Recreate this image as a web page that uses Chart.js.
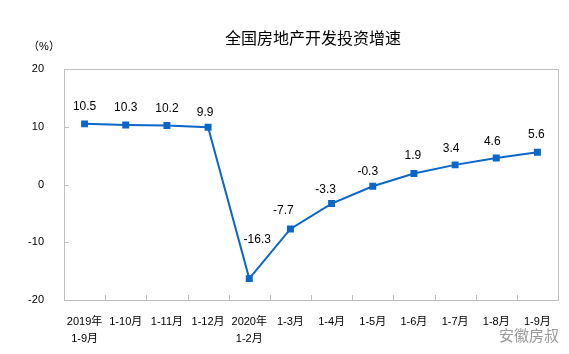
<!DOCTYPE html>
<html>
<head>
<meta charset="utf-8">
<script src="https://cdn.jsdelivr.net/npm/chart.js@4.4.0/dist/chart.umd.min.js"></script>
<style>
  html, body { margin: 0; padding: 0; background: #fff; }
  #wrap { width: 569px; height: 354px; }
</style>
</head>
<body>
<div id="wrap"><canvas id="chart" width="569" height="354"></canvas></div>
<script>
// categorias do eixo x (duas linhas quando muda o ano)
const categories = [['2019年', '1-9月'], '1-10月', '1-11月', '1-12月', ['2020年', '1-2月'],
    '1-3月', '1-4月', '1-5月', '1-6月', '1-7月', '1-8月', '1-9月'];
const growth = [10.5, 10.3, 10.2, 9.9, -16.3, -7.7, -3.3, -0.3, 1.9, 3.4, 4.6, 5.6];
const yTicks = [-20, -10, 0, 10, 20];
const chartTitle = '全国房地产开发投资增速';
const unitLabel = '（%）';
const watermark = '安徽房叔';

// deslocamento dos rótulos de valor (em px)
const labelShiftX = [0, 0, 0, -3, 8, -7, -6, -5, -1, -4, -4, -1];
const labelShiftY = [-17, -17, -17, -15, -39, -18, -14, -15, -18, -16, -16, -17];

const blue = '#0a66c8';
const axisGray = '#bfbfbf';
const numFont = '"Liberation Sans", Arial, "Noto Sans CJK SC", sans-serif';
const cjkFont = '"Liberation Sans", "Noto Sans CJK SC", sans-serif';

const boxPlugin = {
    id: 'boxPlugin',
    afterDraw(chart) {
        const ctx = chart.ctx;
        const a = chart.chartArea;
        const x = chart.scales.x;
        const y = chart.scales.y;
        ctx.save();
        ctx.strokeStyle = axisGray;
        ctx.lineWidth = 1;
        ctx.strokeRect(Math.round(a.left) + 0.5, Math.round(a.top) + 0.5,
            Math.round(a.right - a.left), Math.round(a.bottom - a.top));
        // ticks para dentro
        ctx.beginPath();
        yTicks.forEach(function(v) {
            const py = Math.round(y.getPixelForValue(v)) + 0.5;
            ctx.moveTo(a.left, py);
            ctx.lineTo(a.left + 5, py);
        });
        for (let i = 1; i < categories.length; i++) {
            const px = Math.round((x.getPixelForTick(i - 1) + x.getPixelForTick(i)) / 2) + 0.5;
            ctx.moveTo(px, a.bottom);
            ctx.lineTo(px, a.bottom - 5);
        }
        ctx.stroke();

        // rótulos de valor
        const meta = chart.getDatasetMeta(0);
        ctx.fillStyle = '#000';
        ctx.font = '12px ' + numFont;
        ctx.textAlign = 'center';
        ctx.textBaseline = 'middle';
        meta.data.forEach(function(pt, i) {
            ctx.fillText(growth[i].toFixed(1), pt.x + labelShiftX[i], pt.y + labelShiftY[i]);
        });

        // título
        ctx.font = '16px "Noto Sans CJK SC", sans-serif';
        ctx.fillText(chartTitle, (a.left + a.right) / 2 + 2, 38);

        // unidade
        ctx.font = '11px ' + cjkFont;
        ctx.fillText(unitLabel, 44, 47);

        // marca d'água
        ctx.fillStyle = '#9a9a9a';
        ctx.font = '15px "Noto Sans CJK SC", sans-serif';
        ctx.textAlign = 'left';
        ctx.fillText(watermark, 499, 335);
        ctx.restore();
    }
};

const ctx = document.getElementById('chart').getContext('2d');
const chart = new Chart(ctx, {
    type: 'line',
    data: {
        labels: categories,
        datasets: [{
            data: growth,
            borderColor: blue,
            backgroundColor: blue,
            borderWidth: 2,
            pointStyle: 'rect',
            pointRadius: 3.5,
            pointHoverRadius: 3.5,
            tension: 0,
            fill: false
        }]
    },
    options: {
        responsive: false,
        animation: false,
        layout: { padding: { left: 0, right: 11, top: 69, bottom: 0 } },
        plugins: {
            legend: { display: false },
            tooltip: { enabled: false },
            title: { display: false }
        },
        scales: {
            x: {
                offset: true,
                grid: { display: false },
                border: { display: false },
                afterFit: function(s) { s.height = 54; },
                ticks: {
                    color: '#000',
                    padding: 6,
                    maxRotation: 0,
                    autoSkip: false,
                    font: { family: cjkFont, size: 11, lineHeight: 1.5 }
                }
            },
            y: {
                min: -20,
                max: 20,
                grid: { display: false },
                border: { display: false },
                afterFit: function(s) { s.width = 64; },
                afterBuildTicks: function(s) {
                    s.ticks = yTicks.map(function(v) { return { value: v }; });
                },
                ticks: {
                    color: '#000',
                    padding: 12,
                    font: { family: numFont, size: 11 }
                }
            }
        }
    },
    plugins: [boxPlugin]
});
</script>
</body>
</html>
